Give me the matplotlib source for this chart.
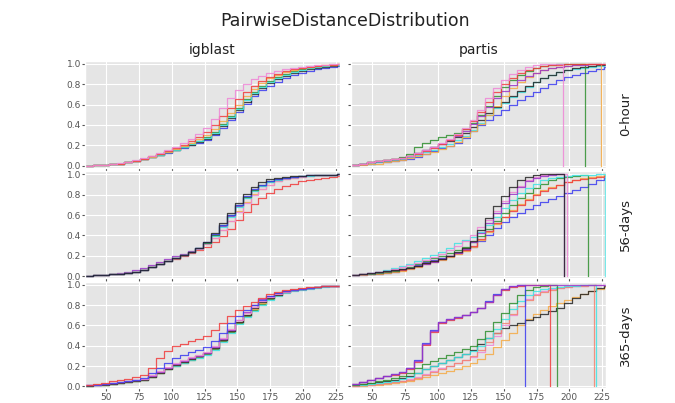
import matplotlib
matplotlib.use("Agg")
import matplotlib.pyplot as plt

# Cumulative pairwise-distance distributions, one step curve per sample.
# Each curve is sampled on the shared bin edges below; a curve with an
# entry in the *_END dict stops at that distance and drops back to zero
# (closed cumulative step histogram).

EDGES = [34, 40, 46, 52, 58, 64, 70, 76, 82, 88, 94, 100, 106, 112, 118, 124,
         130, 136, 142, 148, 154, 160, 166, 172, 178, 184, 190, 196, 202, 208,
         214, 220, 226]
X_MAX = 228

METHODS = ["igblast", "partis"]
TIMEPOINTS = ["0-hour", "56-days", "365-days"]

COLORS = {
    "blue": "#3b3bf0",
    "green": "#2f8f2f",
    "red": "#f03c3c",
    "cyan": "#3fe3e3",
    "violet": "#9a35c8",
    "orange": "#f5ab45",
    "black": "#262626",
    "pink": "#ef86d6",
    "salmon": "#f2836f",
}

# ---- igblast -------------------------------------------------------------
IG_0H = {
    "blue": [0, .005, .01, .015, .02, .03, .04, .06, .08, .10, .12, .15, .17, .20, .22, .25,
             .30, .37, .45, .53, .61, .68, .74, .78, .82, .86, .89, .91, .93, .95, .96, .97, .98],
    "black": [0, .005, .01, .015, .02, .03, .04, .06, .08, .10, .13, .15, .18, .20, .23, .26,
              .31, .39, .47, .55, .63, .70, .76, .81, .85, .88, .91, .93, .95, .96, .97, .98, .985],
    "green": [0, .005, .01, .015, .02, .03, .04, .06, .08, .10, .13, .15, .18, .21, .24, .28,
              .33, .41, .49, .57, .65, .72, .78, .83, .87, .90, .93, .95, .96, .97, .98, .99, .99],
    "cyan": [0, .005, .01, .015, .02, .03, .04, .06, .08, .10, .13, .15, .18, .21, .24, .27,
             .32, .40, .48, .56, .64, .71, .77, .82, .86, .89, .92, .94, .96, .97, .98, .985, .99],
    "orange": [0, .005, .01, .015, .02, .03, .04, .06, .08, .11, .13, .16, .19, .22, .26, .30,
               .36, .44, .52, .60, .68, .75, .81, .86, .89, .92, .94, .96, .97, .98, .99, .99, .995],
    "red": [0, .005, .01, .015, .02, .03, .04, .06, .09, .11, .14, .17, .20, .24, .28, .33,
            .40, .49, .57, .65, .72, .78, .83, .87, .90, .93, .95, .96, .97, .98, .99, .99, .995],
    "pink": [0, .005, .01, .015, .025, .035, .05, .07, .09, .12, .15, .18, .22, .26, .31, .37,
             .46, .57, .66, .74, .80, .85, .88, .91, .93, .95, .96, .97, .98, .99, .99, .995, 1.0],
}
IG_56D = {
    "violet": [0, .005, .01, .02, .03, .04, .06, .08, .11, .14, .17, .20, .22, .25, .28, .32,
               .40, .49, .59, .69, .78, .85, .89, .92, .94, .96, .97, .98, .99, .99, .99, .995, 1.0],
    "red": [0, .005, .01, .015, .02, .03, .04, .06, .09, .12, .15, .17, .20, .23, .26, .29,
            .33, .39, .46, .55, .63, .71, .77, .82, .86, .89, .91, .93, .94, .95, .96, .97, .98],
    "orange": [0, .005, .01, .015, .02, .03, .04, .06, .09, .12, .15, .18, .21, .24, .27, .31,
               .37, .45, .54, .64, .73, .81, .86, .90, .93, .95, .96, .97, .98, .99, .99, .99, .995],
    "pink": [0, .005, .01, .015, .02, .03, .04, .06, .09, .12, .15, .18, .21, .24, .27, .31,
             .37, .45, .54, .63, .72, .80, .86, .90, .93, .95, .96, .97, .98, .99, .99, .99, .995],
    "cyan": [0, .005, .01, .015, .02, .03, .04, .06, .09, .12, .15, .18, .21, .24, .28, .32,
             .39, .48, .58, .68, .77, .84, .89, .92, .94, .96, .97, .98, .98, .99, .99, .995, 1.0],
    "green": [0, .005, .01, .015, .02, .03, .04, .06, .09, .12, .15, .18, .21, .24, .28, .32,
              .40, .50, .60, .70, .78, .85, .90, .93, .95, .96, .97, .98, .99, .99, .99, .995, 1.0],
    "blue": [0, .005, .01, .015, .02, .03, .04, .06, .09, .12, .15, .18, .21, .24, .28, .33,
             .41, .50, .60, .70, .79, .86, .90, .93, .95, .96, .97, .98, .99, .99, .995, .995, 1.0],
    "black": [0, .005, .01, .015, .02, .03, .04, .06, .09, .12, .15, .18, .21, .24, .28, .33,
              .42, .52, .62, .72, .81, .88, .92, .95, .96, .97, .98, .985, .99, .99, .995, .995, 1.0],
}
IG_365D = {
    "green": [.005, .01, .015, .02, .03, .04, .05, .06, .09, .13, .17, .20, .23, .26, .29, .32,
              .37, .45, .54, .62, .69, .75, .81, .86, .90, .93, .95, .96, .97, .98, .985, .99, .99],
    "cyan": [.005, .01, .015, .02, .03, .04, .05, .06, .09, .13, .17, .20, .23, .26, .28, .31,
             .36, .44, .53, .61, .68, .74, .80, .85, .89, .92, .94, .95, .96, .97, .98, .99, .99],
    "orange": [.005, .01, .015, .02, .03, .04, .05, .06, .09, .13, .17, .21, .24, .27, .30, .33,
               .38, .46, .55, .63, .70, .76, .82, .87, .90, .93, .95, .96, .97, .98, .985, .99, .99],
    "black": [.005, .01, .015, .02, .03, .04, .05, .06, .09, .13, .17, .21, .24, .27, .30, .33,
              .38, .46, .55, .63, .70, .77, .83, .87, .90, .93, .95, .96, .97, .98, .985, .99, .99],
    "violet": [.01, .015, .02, .03, .04, .05, .06, .07, .10, .14, .18, .22, .25, .28, .30, .33,
               .39, .47, .56, .65, .73, .80, .86, .89, .92, .94, .95, .96, .97, .98, .985, .99, .99],
    "pink": [.01, .015, .02, .03, .04, .05, .06, .07, .11, .15, .19, .23, .26, .29, .31, .34,
             .40, .48, .57, .65, .72, .78, .84, .88, .91, .93, .95, .96, .97, .98, .985, .99, .99],
    "blue": [.01, .015, .02, .03, .04, .05, .06, .08, .13, .18, .23, .28, .31, .34, .36, .39,
             .45, .53, .62, .69, .75, .80, .85, .89, .92, .94, .95, .96, .97, .98, .985, .99, .99],
    "red": [.01, .02, .03, .05, .06, .07, .09, .11, .18, .28, .35, .40, .42, .45, .47, .50,
            .56, .62, .69, .75, .79, .83, .87, .91, .93, .95, .96, .97, .98, .98, .985, .99, .99],
}

# ---- partis --------------------------------------------------------------
PA_0H = {
    "blue": [.01, .015, .02, .03, .035, .04, .05, .06, .08, .11, .14, .17, .19, .22, .27, .34,
             .40, .45, .50, .55, .60, .64, .68, .72, .76, .80, .84, .87, .89, .91, .93, .95, .97],
    "cyan": [.01, .015, .02, .03, .04, .05, .06, .08, .10, .13, .15, .18, .21, .25, .29, .35,
             .42, .50, .57, .62, .67, .72, .77, .82, .86, .89, .92, .94, .95, .96, .97, .98, .99],
    "black": [.01, .02, .03, .04, .05, .06, .07, .09, .12, .15, .18, .21, .24, .28, .32, .38,
              .45, .52, .58, .63, .68, .73, .78, .82, .86, .89, .92, .94, .96, .97, .98, .99, .99],
    "orange": [.005, .01, .015, .02, .03, .04, .05, .07, .09, .11, .13, .16, .19, .23, .28, .34,
               .41, .50, .59, .68, .76, .82, .87, .91, .94, .96, .97, .98, .99, .995, 1.0, 1.0],
    "green": [.01, .02, .03, .04, .05, .06, .08, .11, .18, .22, .25, .28, .30, .32, .36, .42,
              .50, .59, .68, .77, .84, .89, .93, .96, .98, .99, 1.0, 1.0, 1.0, 1.0],
    "violet": [.01, .02, .03, .04, .05, .06, .07, .09, .12, .15, .18, .21, .25, .29, .34, .41,
               .49, .58, .66, .73, .79, .84, .88, .91, .94, .96, .97, .98, .99, .99, 1.0, 1.0, 1.0],
    "red": [.01, .02, .03, .04, .05, .06, .07, .09, .11, .14, .17, .21, .25, .30, .36, .44,
            .53, .63, .72, .80, .86, .91, .94, .96, .98, .99, .99, 1.0, 1.0, 1.0, 1.0, 1.0, 1.0],
    "pink": [.01, .02, .03, .04, .05, .06, .07, .09, .12, .15, .18, .22, .26, .31, .37, .45,
             .55, .66, .76, .84, .90, .94, .97, .99, 1.0, 1.0, 1.0],
}
PA_0H_END = {"pink": 195, "green": 212, "orange": 224}

PA_56D = {
    "blue": [.005, .01, .015, .02, .03, .04, .06, .08, .11, .14, .16, .18, .20, .23, .26, .29,
             .34, .40, .47, .53, .58, .62, .66, .70, .73, .76, .79, .82, .85, .88, .91, .94, .96],
    "orange": [.005, .01, .015, .02, .03, .04, .05, .07, .09, .12, .14, .16, .19, .22, .25, .29,
               .35, .43, .51, .58, .65, .71, .76, .81, .85, .88, .90, .92, .94, .96, .97, .98, .99],
    "red": [.01, .015, .02, .03, .04, .05, .06, .08, .10, .13, .15, .17, .20, .23, .26, .30,
            .36, .44, .52, .58, .64, .70, .75, .80, .84, .87, .90, .92, .94, .95, .96, .97, .98],
    "green": [.01, .015, .02, .03, .04, .05, .07, .09, .12, .15, .18, .20, .23, .26, .29, .33,
              .39, .46, .54, .62, .70, .77, .82, .87, .91, .94, .96, .97, .98, .99],
    "cyan": [.01, .02, .03, .04, .06, .08, .10, .12, .15, .18, .21, .24, .28, .32, .35, .38,
             .43, .50, .58, .67, .75, .82, .87, .91, .94, .96, .97, .98, .99, .99, .995, 1.0, 1.0],
    "pink": [.01, .02, .03, .04, .05, .07, .09, .11, .13, .16, .19, .22, .26, .30, .34, .40,
             .48, .55, .64, .74, .83, .89, .94, .97, .99, 1.0, 1.0, 1.0],
    "violet": [.01, .02, .03, .04, .05, .06, .07, .08, .10, .12, .14, .17, .20, .23, .27, .33,
               .42, .52, .62, .72, .81, .88, .93, .96, .98, .99, 1.0],
    "black": [.01, .02, .03, .04, .05, .06, .07, .08, .10, .13, .15, .17, .20, .24, .28, .34,
              .45, .57, .69, .79, .88, .94, .97, .99, 1.0, 1.0, 1.0],
}
PA_56D_END = {"black": 196, "violet": 196, "pink": 198, "green": 214, "cyan": 227}

PA_365D = {
    "orange": [.003, .006, .01, .015, .02, .03, .04, .05, .07, .09, .11, .13, .15, .17, .20, .23,
               .27, .32, .39, .46, .53, .60, .66, .71, .75, .79, .82, .85, .88, .91, .94, .96, .98],
    "black": [.01, .02, .03, .04, .05, .06, .08, .10, .13, .17, .20, .23, .26, .29, .32, .36,
              .42, .48, .53, .58, .60, .62, .65, .68, .71, .74, .77, .82, .87, .91, .94, .97, .99],
    "pink": [.005, .01, .015, .02, .03, .04, .05, .07, .09, .12, .15, .18, .20, .23, .26, .29,
             .34, .41, .50, .60, .70, .79, .86, .91, .94, .96, .97, .98, .99, .99, 1.0, 1.0, 1.0],
    "salmon": [.005, .01, .015, .02, .03, .04, .05, .06, .08, .11, .14, .17, .20, .23, .26, .30,
               .36, .44, .53, .62, .71, .79, .85, .90, .93, .95, .97, .98, .99, .99, 1.0, 1.0],
    "cyan": [.01, .015, .02, .03, .04, .05, .07, .09, .13, .17, .20, .23, .26, .29, .32, .35,
             .40, .48, .57, .66, .76, .84, .90, .94, .96, .97, .98, .99, .99, .995, 1.0, 1.0],
    "green": [.01, .02, .03, .05, .06, .08, .10, .13, .18, .22, .25, .28, .31, .34, .37, .40,
              .47, .55, .63, .72, .82, .90, .95, .98, .99, 1.0, 1.0],
    "red": [.02, .04, .06, .08, .10, .11, .13, .17, .24, .41, .54, .62, .65, .67, .70, .73,
            .77, .83, .90, .95, .98, .99, 1.0, 1.0, 1.0, 1.0],
    "blue": [.02, .04, .06, .08, .10, .12, .14, .18, .26, .43, .56, .63, .66, .68, .70, .73,
             .77, .84, .91, .96, .99, 1.0],
    "violet": [.02, .04, .06, .08, .10, .12, .14, .18, .25, .42, .55, .63, .66, .68, .70, .73,
               .77, .83, .90, .96, .99, 1.0, 1.0, 1.0, 1.0, 1.0, 1.0, 1.0, 1.0, 1.0, 1.0, 1.0, 1.0],
}
PA_365D_END = {"blue": 166, "red": 185, "green": 190.5, "salmon": 219, "cyan": 220.5}

PANELS = [
    [(IG_0H, {}), (PA_0H, PA_0H_END)],
    [(IG_56D, {}), (PA_56D, PA_56D_END)],
    [(IG_365D, {}), (PA_365D, PA_365D_END)],
]


def draw_cdf(ax, vals, color, end=None):
    n = len(vals)
    stop = end if end is not None else X_MAX
    xs = EDGES[:n] + [stop]
    ys = list(vals) + [vals[-1]]
    if end is not None:
        xs.append(end)
        ys.append(0.0)
    ax.plot(xs, ys, drawstyle="steps-post", color=COLORS[color], lw=0.9, alpha=0.85)


plt.style.use("ggplot")
fig, axes = plt.subplots(3, 2, figsize=(6.75, 4.03), dpi=100, sharex=True, sharey=True)
fig.subplots_adjust(left=0.126, right=0.898, top=0.849, bottom=0.036,
                    wspace=0.045, hspace=0.035)

for r, row in enumerate(PANELS):
    for c, (series, ends) in enumerate(row):
        ax = axes[r, c]
        for color, vals in series.items():
            draw_cdf(ax, vals, color, ends.get(color))
        ax.set_xlim(EDGES[0], X_MAX)
        ax.set_ylim(-0.02, 1.03)
        ax.set_xticks([50, 75, 100, 125, 150, 175, 200, 225])
        ax.set_yticks([0.0, 0.2, 0.4, 0.6, 0.8, 1.0])
        ax.set_yticklabels(["0.0", "0.2", "0.4", "0.6", "0.8", "1.0"])
        ax.tick_params(labelsize=6.5, colors="#555555", length=2, pad=1)
        ax.grid(True, color="white", lw=0.8)
        if r == 0:
            ax.set_title(METHODS[c], fontsize=10, color="#222222", pad=5)
    # timepoint label on the right of each row
    pos = axes[r, 1].get_position()
    fig.text(0.927, (pos.y0 + pos.y1) / 2, TIMEPOINTS[r], rotation=90,
             ha="center", va="center", fontsize=9.5, color="#222222")

fig.suptitle("PairwiseDistanceDistribution", fontsize=12.5, x=0.511, y=0.97, color="#222222")

fig.savefig("out.png", dpi=100)
